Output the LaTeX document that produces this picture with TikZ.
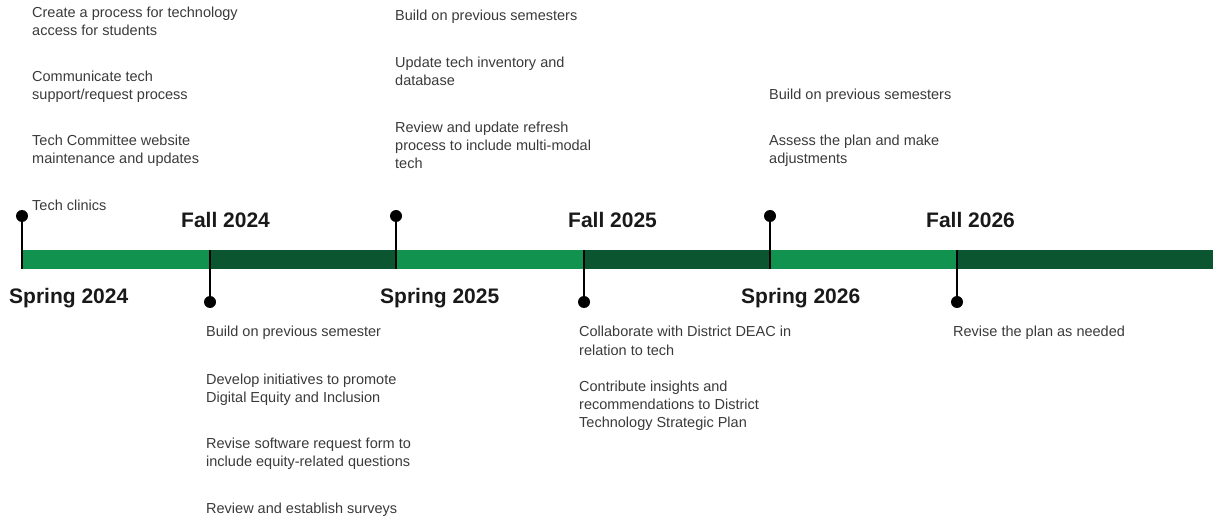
\documentclass[tikz,border=0pt]{standalone}
\usepackage{fontspec}
\setmainfont{Liberation Sans}
\definecolor{lightg}{HTML}{12924F}
\definecolor{darkg}{HTML}{0B5530}
\definecolor{txt}{HTML}{3A3A3A}
\begin{document}
\begin{tikzpicture}[x=1pt,y=-1pt,
  item/.style={anchor=base west,align=left,inner sep=0pt,text=txt,font=\fontsize{14.5}{18}\selectfont},
  term/.style={anchor=base west,inner sep=0pt,text=black!90,font=\fontsize{21}{25}\selectfont\bfseries},
  stem/.style={line width=1.2pt,black},
  dot/.style={circle,fill=black,inner sep=0pt,minimum size=12pt}]
\useasboundingbox (0,0) rectangle (1218,521);
% bar
\fill[lightg] (22,250) rectangle (210,269);
\fill[darkg] (210,250) rectangle (396,269);
\fill[lightg] (396,250) rectangle (584,269);
\fill[darkg] (584,250) rectangle (770,269);
\fill[lightg] (770,250) rectangle (957,269);
\fill[darkg] (957,250) rectangle (1213,269);
% stems
\node[dot] (d1) at (22,216) {};
\node[dot] (d2) at (210,302) {};
\node[dot] (d3) at (396,216) {};
\node[dot] (d4) at (584,302) {};
\node[dot] (d5) at (770,216) {};
\node[dot] (d6) at (957,302) {};
\coordinate (b1) at (22,269);
\coordinate (b2) at (210,250);
\coordinate (b3) at (396,269);
\coordinate (b4) at (584,250);
\coordinate (b5) at (770,269);
\coordinate (b6) at (957,250);
\foreach \i in {1,...,6} \draw[stem] (d\i.center) -- (b\i);
% terms
\node[term] (t1) at (9,304) {Spring 2024};
\node[term] (t2) at (181,228) {Fall 2024};
\node[term] (t3) at (380,304) {Spring 2025};
\node[term] (t4) at (568,228) {Fall 2025};
\node[term] (t5) at (741,304) {Spring 2026};
\node[term] (t6) at (926,228) {Fall 2026};
% Spring 2024 (anchor = baseline of last line)
\node[item] (s1a) at (32,36) {Create a process for technology\\access for students};
\node[item] (s1b) at (32,100) {Communicate tech\\support/request process};
\node[item] (s1c) at (32,164) {Tech Committee website\\maintenance and updates};
\node[item] (s1d) at (32,211) {Tech clinics};
% Spring 2025
\node[item] (s2a) at (395,21) {Build on previous semesters};
\node[item] (s2b) at (395,86) {Update tech inventory and\\database};
\node[item] (s2c) at (395,169) {Review and update refresh\\process to include multi-modal\\tech};
% Spring 2026
\node[item] (s3a) at (769,100) {Build on previous semesters};
\node[item] (s3b) at (769,164) {Assess the plan and make\\adjustments};
% Fall 2024
\node[item] (f1a) at (206,337) {Build on previous semester};
\node[item] (f1b) at (206,402) {Develop initiatives to promote\\Digital Equity and Inclusion};
\node[item] (f1c) at (206,466) {Revise software request form to\\include equity-related questions};
\node[item] (f1d) at (206,513) {Review and establish surveys};
% Fall 2025
\node[item] (f2a) at (579,355) {Collaborate with District DEAC in\\relation to tech};
\node[item] (f2b) at (579,427) {Contribute insights and\\recommendations to District\\Technology Strategic Plan};
% Fall 2026
\node[item] (f3a) at (953,337) {Revise the plan as needed};
\end{tikzpicture}
\end{document}
